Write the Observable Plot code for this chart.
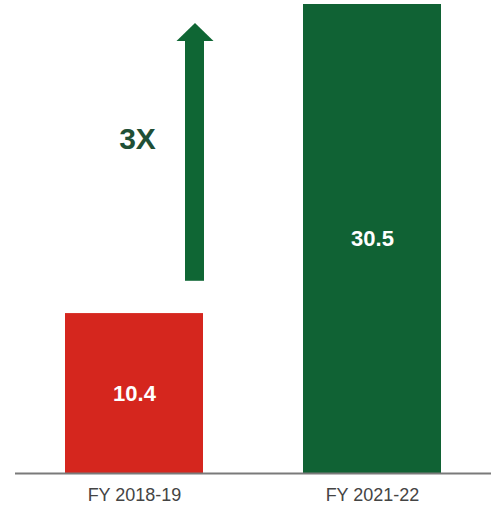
<!DOCTYPE html>
<html>
<head>
<meta charset="utf-8">
<script src="https://cdn.jsdelivr.net/npm/d3@7"></script>
<script src="https://cdn.jsdelivr.net/npm/@observablehq/plot@0.6"></script>
<style>
  html, body { margin: 0; padding: 0; background: #fff; }
  #chart { width: 498px; height: 507px; }
</style>
</head>
<body>
<div id="chart"></div>
<script>
// Data
const categories = ["FY 2018-19", "FY 2021-22"];
const values = [10.4, 30.5];
const barColors = ["#d5261e", "#106234"];
const valueLabels = ["10.4", "30.5"];
// Growth annotation (arrow from ~12.5 up to ~29.3 next to first bar)
const arrowCategory = "FY 2018-19";
const arrowFrom = 12.5;
const arrowTo = 29.3;
const arrowLabel = "3X";
const arrowLabelValue = 21.7;

const rows = categories.map((c, i) => ({cat: c, value: values[i], color: barColors[i], label: valueLabels[i]}));
const arrowRows = [{cat: arrowCategory, y1: arrowFrom, y2: arrowTo, label: arrowLabel, ly: arrowLabelValue}];

const arrowHead = {
  draw(context) {
    context.moveTo(0, 0);
    context.lineTo(18.5, 18);
    context.lineTo(-18.5, 18);
    context.closePath();
  }
};

const green = "#0f6634";

const chart = Plot.plot({
  width: 498,
  height: 507,
  marginTop: 4,
  marginBottom: 34,
  marginLeft: 15,
  marginRight: 7,
  style: {fontFamily: "'Liberation Sans', Arial, sans-serif", background: "#fff"},
  x: {domain: categories, paddingInner: 0.42, paddingOuter: 0.21, label: null, tickSize: 0, tickPadding: 15},
  y: {domain: [0, 30.5], axis: null},
  marks: [
    Plot.barY(rows, {x: "cat", y: "value", fill: "color"}),
    Plot.ruleY([0], {stroke: "#7a7a7a", strokeWidth: 2}),
    Plot.text(rows, {x: "cat", y: d => d.value / 2, text: "label", fill: "#fff", fontSize: 22, fontWeight: "bold"}),
    Plot.barY(arrowRows, {x: "cat", y1: "y1", y2: "y2", fill: green, insetLeft: 120, insetRight: -1, insetTop: 17}),
    Plot.dot(arrowRows, {x: "cat", y: "y2", symbol: arrowHead, fill: green, stroke: "none", dx: 60.5}),
    Plot.text(arrowRows, {x: "cat", y: "ly", text: "label", fill: "#1f4f36", fontSize: 30, fontWeight: "bold", dx: 3}),
    Plot.axisX({tickSize: 0, tickPadding: 15, fontSize: 18, fill: "#444", label: null})
  ]
});
document.getElementById("chart").appendChild(chart);
</script>
</body>
</html>
